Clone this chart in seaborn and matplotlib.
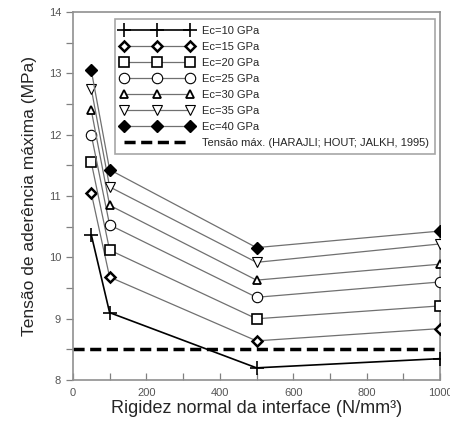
import matplotlib
matplotlib.use("Agg")
import matplotlib.pyplot as plt
import seaborn as sns
import pandas as pd
from matplotlib.ticker import MultipleLocator

sns.set_theme(style="white")
plt.rcParams['font.family'] = ['Liberation Sans', 'DejaVu Sans']

rigidez = [50, 100, 500, 1000]
labels = ["Ec=10 GPa", "Ec=15 GPa", "Ec=20 GPa", "Ec=25 GPa",
          "Ec=30 GPa", "Ec=35 GPa", "Ec=40 GPa"]
ec10 = [10.37, 9.10, 8.20, 8.35]
ec15 = [11.05, 9.68, 8.64, 8.84]
ec20 = [11.55, 10.12, 9.00, 9.21]
ec25 = [12.00, 10.53, 9.35, 9.60]
ec30 = [12.40, 10.85, 9.63, 9.89]
ec35 = [12.75, 11.15, 9.92, 10.22]
ec40 = [13.05, 11.43, 10.16, 10.43]
tensao_max = 8.5
tensao_label = "Tensão máx. (HARAJLI; HOUT; JALKH, 1995)"

series = [ec10, ec15, ec20, ec25, ec30, ec35, ec40]
markers = ["+", "D", "s", "o", "^", "v", "D"]
msizes = [9.5, 5, 7.5, 7.5, 5.5, 6.5, 6.5]
mfaces = ["black", "white", "white", "white", "white", "white", "black"]
mews = [1.2, 1.8, 1.2, 0.8, 1.3, 0.8, 1]
lcolors = ["black", "#707070", "#707070", "#707070", "#707070", "#707070", "#707070"]
lwidths = [1.2, 0.9, 0.9, 0.9, 0.9, 0.9, 0.9]

fig = plt.figure(figsize=(4.5, 4.3), dpi=100)
ax = fig.add_axes([0.162, 0.116, 0.816, 0.856])

for lab, vals, m, ms, fc, mew, lc, lw in zip(labels, series, markers, msizes,
                                              mfaces, mews, lcolors, lwidths):
    df = pd.DataFrame({"x": rigidez, "y": vals})
    sns.lineplot(data=df, x="x", y="y", ax=ax, color=lc, lw=lw, marker=m,
                 markersize=ms, markerfacecolor=fc, markeredgecolor="black",
                 markeredgewidth=mew, label=lab, zorder=3)

ax.plot([0, 1000], [tensao_max, tensao_max], color="black", lw=2.5,
        ls=(0, (3.2, 1.6)), label=tensao_label, zorder=2)

ax.set_xlim(0, 1000)
ax.set_ylim(8, 14)
ax.xaxis.set_major_locator(MultipleLocator(200))
ax.xaxis.set_minor_locator(MultipleLocator(100))
ax.yaxis.set_major_locator(MultipleLocator(1))
ax.yaxis.set_minor_locator(MultipleLocator(0.5))
ax.tick_params(axis="x", which="both", direction="in", length=5, width=0.9,
               color="#808080", labelsize=8, labelcolor="#555555", pad=6,
               bottom=True)
ax.tick_params(axis="y", which="both", direction="out", length=5, width=0.9,
               color="#808080", labelsize=8, labelcolor="#555555", left=True)
for s in ax.spines.values():
    s.set_color("#909090")
    s.set_linewidth(1.2)

ax.set_xlabel("Rigidez normal da interface (N/mm³)", fontsize=13, labelpad=1)
ax.set_ylabel("Tensão de aderência máxima (MPa)", fontsize=12.5, labelpad=8)

leg = ax.legend(loc="upper right", bbox_to_anchor=(0.993, 0.986), numpoints=3,
                handlelength=6.5, fontsize=8, frameon=True, fancybox=False,
                borderpad=0.55, labelspacing=0.55, handletextpad=0.8,
                borderaxespad=0.2)
leg.get_frame().set_edgecolor("#909090")
leg.get_frame().set_linewidth(1.2)

fig.savefig("out.png", dpi=100)
